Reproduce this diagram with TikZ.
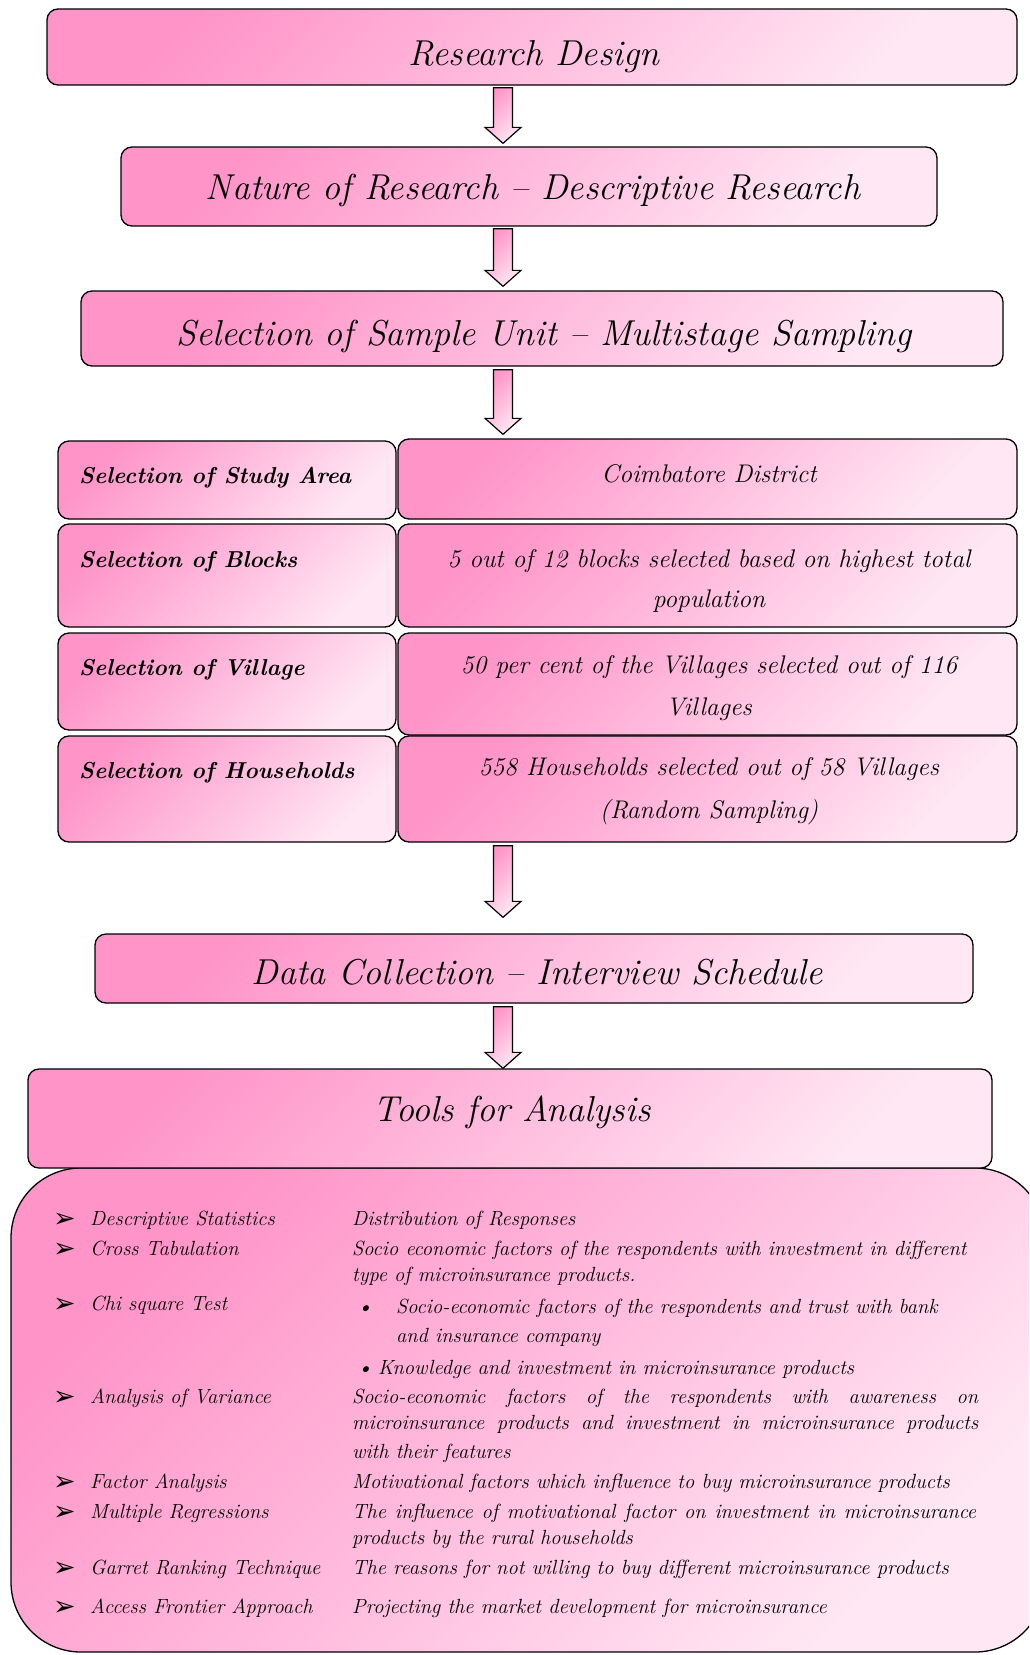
\documentclass[tikz,border=0pt]{standalone}
\usepackage{fontspec}
\newfontfamily\dejavu{DejaVu Sans}
\usetikzlibrary{calc}
\definecolor{pinkA}{RGB}{255,148,200}
\definecolor{pinkM}{RGB}{255,188,222}
\definecolor{pinkB}{RGB}{255,232,244}
\tikzset{
  pbox/.style={draw=black, line width=1.3pt, rounded corners=11pt,
    top color=pinkA, bottom color=pinkB, middle color=pinkM, shading angle=45, inner sep=0pt},
  bigbox/.style={pbox, rounded corners=70pt},
  arrowsty/.style={draw=black, line width=1.2pt, line join=miter,
    top color=pinkA, bottom color=pinkB, middle color=pinkM, shading angle=45},
  ttl/.style={font=\fontsize{36}{40}\selectfont\itshape, anchor=base, inner sep=0pt},
  lbl/.style={font=\fontsize{23}{27}\selectfont\bfseries\itshape, anchor=base west, inner sep=0pt},
  cel/.style={font=\fontsize{25.5}{30}\selectfont\itshape, anchor=base, inner sep=0pt},
  btxt/.style={font=\fontsize{20.5}{24}\selectfont\itshape, anchor=base west, inner sep=0pt},
  arrb/.style={font=\dejavu\fontsize{27}{30}\selectfont, anchor=base west, inner sep=0pt},
}
\newcommand\barrow[4]{%
  \path[arrowsty] let \p1=(#1.south), \p2=(#2.north) in
   (503pt-9.5pt,\y1-#3) -- (503pt+9.5pt,\y1-#3) -- (503pt+9.5pt,\y2+#4+16pt)
   -- (503pt+18pt,\y2+#4+16pt) -- (503pt,\y2+#4) -- (503pt-18pt,\y2+#4+16pt)
   -- (503pt-9.5pt,\y2+#4+16pt) -- cycle;}
\begin{document}
\begin{tikzpicture}[x=1pt,y=-1pt]
\useasboundingbox (0,0) rectangle (1029,1655);
\fill[white] (0,0) rectangle (1029,1655);
\clip (0,0) rectangle (1029,1655);

% main boxes
\node[pbox, minimum width=970pt, minimum height=76pt] (rd) at (532,47) {};
\node[pbox, minimum width=816pt, minimum height=79pt] (nr) at (529,186.5) {};
\node[pbox, minimum width=922pt, minimum height=75pt] (ss) at (542,328.5) {};

% table rows
\node[pbox, minimum width=338pt, minimum height=78pt] (r1l) at (227,480) {};
\node[pbox, minimum width=619pt, minimum height=80pt] (r1r) at (707.5,479) {};
\node[pbox, minimum width=338pt, minimum height=103pt] (r2l) at (227,575.5) {};
\node[pbox, minimum width=619pt, minimum height=103pt] (r2r) at (707.5,575.5) {};
\node[pbox, minimum width=338pt, minimum height=97pt] (r3l) at (227,681.5) {};
\node[pbox, minimum width=619pt, minimum height=102pt] (r3r) at (707.5,684) {};
\node[pbox, minimum width=338pt, minimum height=106pt] (r4l) at (227,789) {};
\node[pbox, minimum width=619pt, minimum height=106pt] (r4r) at (707.5,789) {};

\node[pbox, minimum width=878pt, minimum height=69pt] (dc) at (534,968.5) {};
\node[bigbox, minimum width=1034pt, minimum height=484pt] (tb) at (528,1410) {};
\node[pbox, minimum width=964pt, minimum height=99pt] (ta) at (510,1118.5) {};

% arrows
\barrow{rd}{nr}{2pt}{3pt}
\barrow{nr}{ss}{2pt}{4pt}
\barrow{ss}{r1r}{3pt}{4pt}
\barrow{r4r}{dc}{3pt}{16pt}
\barrow{dc}{ta}{3pt}{0pt}

% titles
\node[ttl] (t1) at (534,65) {Research Design};
\node[ttl] (t2) at (533,199) {Nature of Research -- Descriptive Research};
\node[ttl] (t3) at (544,345) {Selection of Sample Unit -- Multistage Sampling};
\node[ttl] (t4) at (537,984) {Data Collection -- Interview Schedule};
\node[ttl] (t5) at (512,1121) {Tools for Analysis};

% table text
\node[lbl] (l1) at (79,483) {Selection of Study Area};
\node[lbl] (l2) at (79,567) {Selection of Blocks};
\node[lbl] (l3) at (79,675) {Selection of Village};
\node[lbl] (l4) at (79,778) {Selection of Households};
\node[cel] (c1) at (709,482) {Coimbatore District};
\node[cel] (c2a) at (709,567) {5 out of 12 blocks selected based on highest total};
\node[cel] (c2b) at (709,607) {population};
\node[cel] (c3a) at (709,673) {50 per cent of the Villages selected out of 116};
\node[cel] (c3b) at (709,715) {Villages};
\node[cel] (c4a) at (709,775) {558 Households selected out of 58 Villages};
\node[cel] (c4b) at (709,818) {(Random Sampling)};

% tools list: arrows
\foreach \yy [count=\i] in {1225,1255,1310,1403,1488,1518,1574,1613}
  \node[arrb] (ab\i) at (53,\yy+2) {➢};
% tools list: left
\node[btxt] (k1) at (90,1225) {Descriptive Statistics};
\node[btxt] (k2) at (90,1255) {Cross Tabulation};
\node[btxt] (k3) at (90,1310) {Chi square Test};
\node[btxt] (k4) at (90,1403) {Analysis of Variance};
\node[btxt] (k5) at (90,1488) {Factor Analysis};
\node[btxt] (k6) at (90,1518) {Multiple Regressions};
\node[btxt] (k7) at (90,1574) {Garret Ranking Technique};
\node[btxt] (k8) at (90,1613) {Access Frontier Approach};
% tools list: right
\node[btxt] (d1) at (352,1225) {Distribution of Responses};
\node[btxt] (d2a) at (352,1255) {Socio economic factors of the respondents with investment in different};
\node[btxt] (d2b) at (352,1281) {type of microinsurance products.};
\node[btxt] (d3b1) at (357,1313) {\textbullet};
\node[btxt] (d3a) at (396,1313) {Socio-economic factors of the respondents and trust with bank};
\node[btxt] (d3b) at (396,1342) {and insurance company};
\node[btxt] (d3b2) at (357,1374) {\textbullet};
\node[btxt] (d3c) at (378,1374) {Knowledge and investment in microinsurance products};
\node[btxt] (d4a) at (352,1403) {\makebox[626pt][s]{Socio-economic factors of the respondents with awareness on}};
\node[btxt] (d4b) at (352,1429) {\makebox[626pt][s]{microinsurance products and investment in microinsurance products}};
\node[btxt] (d4c) at (352,1458) {with their features};
\node[btxt] (d5) at (352,1488) {Motivational factors which influence to buy microinsurance products};
\node[btxt] (d6a) at (352,1518) {\makebox[624pt][s]{The influence of motivational factor on investment in microinsurance}};
\node[btxt] (d6b) at (352,1544) {products by the rural households};
\node[btxt] (d7) at (352,1574) {The reasons for not willing to buy different microinsurance products};
\node[btxt] (d8) at (352,1613) {Projecting the market development for microinsurance};
\end{tikzpicture}
\end{document}
